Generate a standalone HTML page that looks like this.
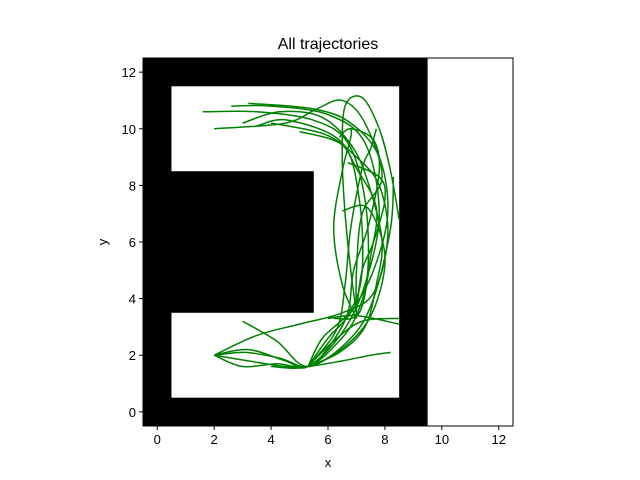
<!DOCTYPE html>
<html><head><meta charset="utf-8"><style>
body{margin:0;background:#fff;font-family:"Liberation Sans",sans-serif}
svg{display:block}
</style></head><body>
<svg width="640" height="480">
<rect width="640" height="480" fill="#fff"/>
<g id="plot"></g>
<text x="328" y="49" font-size="16" text-anchor="middle">All trajectories</text>
<text x="328" y="467" font-size="13" text-anchor="middle">x</text>
<text x="107" y="242" font-size="13" text-anchor="middle" transform="rotate(-90 107 242)">y</text>
</svg>
<script>
const xTicks=[0,2,4,6,8,10,12];
const yTicks=[0,2,4,6,8,10,12];
const walls=[[-0.5,-0.5,10,13]];
const openings=[[0.5,0.5,8,11]];
const blocks=[[-0.5,3.5,6,5]];
const traj=[
[[2,2],[3,1.6],[4.2,1.7],[5.3,1.6],[6.3,2.4],[7,3.4],[7.4,5],[7.3,7.5],[6.7,9.5],[5.5,10.3],[3.5,10.6],[1.6,10.6]],
[[2,2],[3.2,2.2],[4.5,1.8],[5.3,1.6],[6.5,2.8],[7.3,4.5],[7.8,7],[7.3,9.5],[6,10.5],[4,10.8],[2.6,10.8]],
[[5.3,1.6],[6,2.6],[6.8,3.5],[7.6,5],[8.1,7],[7.8,9],[6.8,10.2],[5.5,10.7],[3.2,10.9]],
[[3,3.2],[4.2,2.5],[5.3,1.6],[6.8,2.6],[7.6,4],[8.2,6.5],[8.3,8.3]],
[[2,2],[3.2,1.8],[4.5,1.6],[5.3,1.6],[6.5,1.8],[7.5,2],[8.2,2.1]],
[[5.3,1.6],[6.2,2.5],[7.2,3.2],[8.5,3.3]],
[[6,3.3],[7,3.4],[8.5,3.1]],
[[5.3,1.6],[5.8,2.6],[6.8,3.6],[7.2,5],[7.1,7.5],[6.5,9.5],[4.6,10.3],[3.5,10.1]],
[[7,3.3],[7,5],[7.2,7],[7.9,8.3],[7.3,10.2],[6.5,11],[5.6,10.7],[4.5,10.2],[2,10]],
[[7,3.5],[6.8,5],[6.6,7],[6.5,9],[6.6,10.8],[7.2,11.1],[7.8,10],[8.2,8.5],[8.5,6.8]],
[[7,3.6],[7.2,5],[7.6,6],[8,7.5],[7.8,8.3],[6.7,8.8]],
[[7,3.3],[6.5,4.5],[6.2,6.5],[6.5,8.5],[6.8,9.7],[6.8,10]],
[[4,1.6],[5.3,1.6],[6.7,2.4],[7.6,3.6],[8,5.5],[7.4,7.2],[6.5,7.1]],
[[2,2],[3.5,2.7],[5,3.1],[6.5,3.5],[7.6,4.2],[8.1,6.2],[7.8,8],[7,9],[5.9,9.8],[4,10.2]],
[[6.2,3.3],[7.1,3.5],[7.5,5.5],[7.7,7.2],[7,8.6],[6.4,9.5],[5,9.9]],
[[2,2],[3.1,2.1],[4.3,1.9],[5.3,1.6],[6.1,2.4],[6.7,3.5],[6.9,5],[7.4,6.5],[7.8,8.5],[7.6,9.6],[6.8,10],[6.4,9.7]],
[[5.3,1.6],[6.3,2.9],[6.6,4.5],[6.8,6.5],[7.2,8.6],[7.5,9.3],[7.7,10]],
[[5.3,1.6],[6.4,2.1],[7.3,3],[7.7,4.5],[7.9,6],[7.5,7.8],[6.9,9.3],[5.8,10.4],[4.3,10.6],[3,10.2]]
];
const L=143,R=513,T=58,B=426,X0=-0.5,X1=12.5,Y0=-0.5,Y1=12.5;
const sx=v=>L+(v-X0)/(X1-X0)*(R-L), sy=v=>B-(v-Y0)/(Y1-Y0)*(B-T);
const NS="http://www.w3.org/2000/svg",g=document.getElementById('plot');
function mk(t,a){const e=document.createElementNS(NS,t);for(const k in a)e.setAttribute(k,a[k]);g.appendChild(e);return e;}
walls.forEach(w=>{const e=mk('rect',{x:sx(w[0]),y:sy(w[1]+w[3]),width:sx(w[0]+w[2])-sx(w[0]),height:sy(w[1])-sy(w[1]+w[3]),fill:'#000'});

});
openings.forEach(w=>{const e=mk('rect',{x:sx(w[0]),y:sy(w[1]+w[3]),width:sx(w[0]+w[2])-sx(w[0]),height:sy(w[1])-sy(w[1]+w[3]),fill:'#fff'});

});
blocks.forEach(w=>{const e=mk('rect',{x:sx(w[0]),y:sy(w[1]+w[3]),width:sx(w[0]+w[2])-sx(w[0]),height:sy(w[1])-sy(w[1]+w[3]),fill:'#000'});

});
function smooth(pts){const p=pts.map(q=>[sx(q[0]),sy(q[1])]);let d='M'+p[0][0]+','+p[0][1];
for(let i=0;i<p.length-1;i++){const a=p[Math.max(i-1,0)],b=p[i],c=p[i+1],e=p[Math.min(i+2,p.length-1)];
d+=' C'+(b[0]+(c[0]-a[0])/6)+','+(b[1]+(c[1]-a[1])/6)+' '+(c[0]-(e[0]-b[0])/6)+','+(c[1]-(e[1]-b[1])/6)+' '+c[0]+','+c[1];}return d;}
traj.forEach(t=>{const e=mk('path',{d:smooth(t),fill:'none',stroke:'#008000','stroke-width':1.5});

});
const fr=mk('rect',{x:L,y:T,width:R-L,height:B-T,fill:'none',stroke:'#000','stroke-width':1});


xTicks.forEach(v=>{mk('line',{x1:sx(v),x2:sx(v),y1:B,y2:B+4,stroke:'#000'});
const t=mk('text',{x:sx(v),y:B+18,'font-size':13,'text-anchor':'middle'});t.textContent=v;

});
yTicks.forEach(v=>{mk('line',{x1:L-4,x2:L,y1:sy(v),y2:sy(v),stroke:'#000'});
const t=mk('text',{x:L-7,y:sy(v)+5,'font-size':13,'text-anchor':'end'});t.textContent=v;

});
</script>
</body></html>
